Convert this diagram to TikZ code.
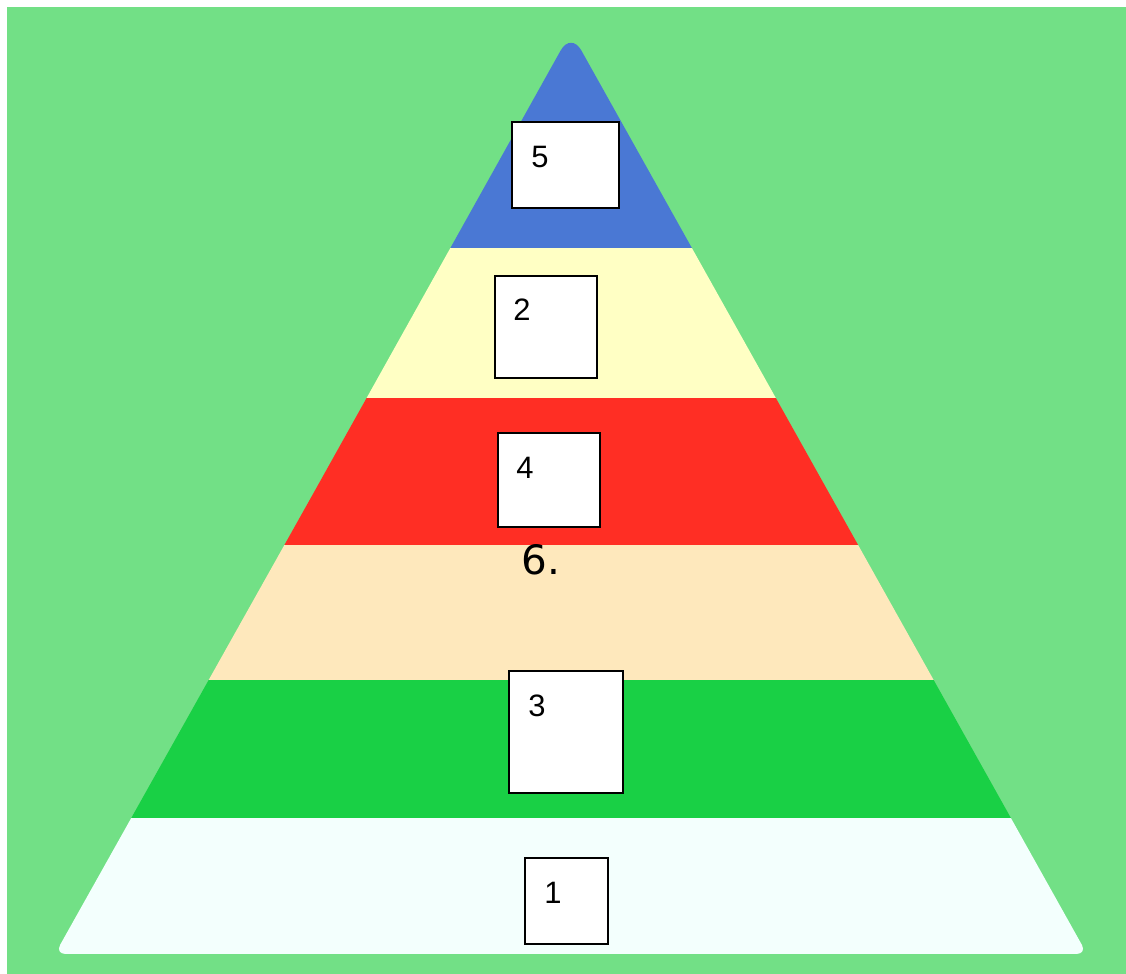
\documentclass[tikz,border=0pt]{standalone}
\usepackage{fontspec}
\setmainfont{Liberation Sans}
\newfontfamily\dejavu{DejaVu Sans}
\usetikzlibrary{positioning}

\definecolor{bgGreen}{HTML}{72E086}
\definecolor{topBlue}{HTML}{4A78D4}
\definecolor{paleYellow}{HTML}{FFFFC4}
\definecolor{brightRed}{HTML}{FF2E24}
\definecolor{peach}{HTML}{FEE8BC}
\definecolor{midGreen}{HTML}{19D045}
\definecolor{iceWhite}{HTML}{F3FFFD}

\tikzset{
  box/.style={draw=black, fill=white, line width=0.6pt, inner sep=0pt},
  num/.style={font=\fontsize{8.8}{10}\selectfont, inner sep=0pt}
}

\begin{document}
\begin{tikzpicture}[x=0.01cm, y=-0.01cm]

\useasboundingbox (0, 0) rectangle (1126, 974);
\fill[white] (0, 0) rectangle (1126, 974);
\fill[bgGreen] (7, 7) rectangle (1126, 974);

% pyramid bands
\begin{scope}
\clip (313, 494) [rounded corners=6pt] -- (571, 32) [rounded corners=3pt] -- (1087, 954)
    -- (55, 954) -- cycle;
\foreach \Top/\Bottom/\Col in {0/248/topBlue, 248/398/paleYellow, 398/545/brightRed,
    545/680/peach, 680/818/midGreen, 818/960/iceWhite}{
    \fill[\Col] (0, \Top) rectangle (1126, \Bottom);
}
\end{scope}

% boxes
\node[box, minimum width=1.07cm, minimum height=0.86cm] (box5) at (565.5, 165) {};
\node[box, minimum width=1.02cm, minimum height=1.02cm] (box2) at (546, 327) {};
\node[box, minimum width=1.02cm, minimum height=0.94cm] (box4) at (549, 480) {};
\node[box, minimum width=1.14cm, minimum height=1.22cm] (box3) at (566, 732) {};
\node[box, minimum width=0.83cm, minimum height=0.86cm] (box1) at (566.5, 901) {};

\node[num] (lab5) at (540, 157) {5};
\node[num] (lab2) at (522, 310) {2};
\node[num] (lab4) at (525, 468) {4};
\node[num] (lab3) at (537, 706) {3};
\node[num] (lab1) at (553, 893) {1};

\node[font=\dejavu\fontsize{11.5}{13}\selectfont, inner sep=0pt] (six) at (541, 560) {6.};

\end{tikzpicture}
\end{document}
